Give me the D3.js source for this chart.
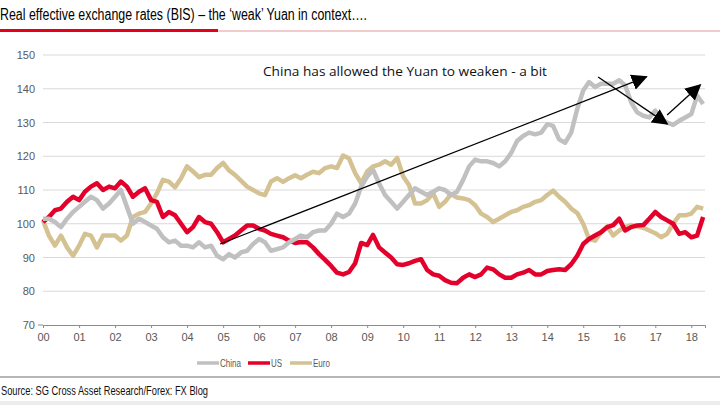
<!DOCTYPE html>
<html><head><meta charset="utf-8">
<script src="https://cdn.jsdelivr.net/npm/d3@7"></script>
<style>
html,body{margin:0;padding:0;background:#fff;}
svg{display:block;}
</style></head>
<body>
<svg id="c" width="720" height="405"></svg>
<script>
// ---- data (bi-monthly observations, Jan 2000 .. May 2018) ----
const seriesNames = ["China", "US", "Euro"];
const tickLabels = ["00","01","02","03","04","05","06","07","08","09","10","11","12","13","14","15","16","17","18"];
const yTicks = [70, 80, 90, 100, 110, 120, 130, 140, 150];

const china = [
 101.5,101.5,100.5,99.0,101.5,103.5, 105,106.5,108,107,104.5,106,
 108,110,105,100,101.5,100.5, 99.5,98.5,96,94.5,95,93.5,
 93.5,93,94.5,93,93.5,90.5, 89.5,91,90,91.5,92,94,
 95.5,94.5,92,92.5,93,94.5, 95.5,96.5,96,97.5,98,98,
 100,103,102,103,106,111, 114,116,112,108.5,106.5,104.5,
 106.5,108.5,110.5,109.5,108.5,109.5, 110.5,110,108.5,109.5,113,117,
 119,118.5,118.5,118,117,118.5, 121,124.5,126,127,126.5,127,
 129.5,129,125,124,127,134, 139.5,142,140.5,141.5,141.5,141.5,
 142.5,141,136,133,132,131.5, 133.5,131,130,129.3,130.5,131.5,
 132.5,138,135.5
];
const us = [
 100.5,102,104,104.5,106.5,108, 107,109.5,111,112,110,111,
 110.5,112.5,111,108,109.5,110.5, 107,106.5,102,103.5,102.5,100,
 97.5,99,102,100.5,100,97.5, 94.5,95.5,96.5,98,99.5,99.5,
 98.5,98,97,96.5,96,95, 94.3,94.6,94.5,93,91,89.3,
 87.5,85.5,85,85.7,88.3,94.3, 93.7,96.7,93,91.5,90,88,
 87.8,88.3,89,89.5,86.3,85, 84.6,83.3,82.5,82.4,84,85,
 84.2,85,87,86.5,85,84, 84,85,85.5,86.3,85,85,
 86,86.3,86.5,86.3,88,90.5, 94,95.5,96.5,97.5,99,99.6,
 101.5,98,99,99.5,99.6,101.5, 103.5,102,101,100,97,97.5,
 96,96.5,102
];
const euro = [
 101,96.5,93.5,96.5,93,90.5, 93.5,97,96.5,93,96.5,96.5,
 96.5,95,96.5,102,103,103.5, 106,109,113,112.5,110.8,113.5,
 117,115.5,113.8,114.5,114.5,116.5, 118,115.8,114.5,112.8,111,110,
 109,108.5,112.5,113.5,112.4,113.5, 114.4,113.5,114.5,115.4,115,116.5,
 117,116.5,120.2,119.3,115,112, 115.5,117,117.5,118.5,117.5,119.5,
 114,111.5,106,106,107,109, 105,106.5,108.8,107.8,107.5,107,
 105.5,103,102,100.5,101.5,102.5, 103.5,104,105,105.5,106.5,107,
 108.5,109.8,108,106.5,104.5,103.2, 100,95.5,95,97.5,99.2,96.5,
 98,99,99.6,99.2,98.8,98, 97.2,96,97,100,102.5,102.5,
 103,105,104.5
];
// annotation arrows in data space: [startYearOffset, startValue, endYearOffset, endValue]
const arrows = [
 [4.89, 94.0, 16.78, 143.5],
 [15.42, 143.5, 17.33, 129.6],
 [17.36, 132.2, 18.25, 141.1]
];
const annotation = "China has allowed the Yuan to weaken - a bit";
const titleText = "Real effective exchange rates (BIS) \u2013 the \u2018weak\u2019 Yuan in context\u2026.";
const sourceText = "Source: SG Cross Asset Research/Forex: FX Blog";

const colors = {China:"#c0c0c0", US:"#e3002b", Euro:"#d4c292"};
const dates = d3.range(china.length).map(i => new Date(2000, i*2, 1));
const data = {China: china, US: us, Euro: euro};

const svg = d3.select("#c");
const x = d3.scaleTime().domain([new Date(2000,0,1), new Date(2018,4,20)]).range([43, 705]);
const y = d3.scaleLinear().domain([70, 150]).range([325, 55]);
const yr = t => new Date(2000 + Math.floor(t), Math.round((t - Math.floor(t))*12), 1);

// title
svg.append("text").attr("x", 0).attr("y", 20).text(titleText)
  .attr("font-family","Liberation Sans, Arial, sans-serif").attr("font-size",16)
  .attr("fill","#000").attr("textLength",367).attr("lengthAdjust","spacingAndGlyphs");
svg.append("line").attr("x1",218).attr("x2",720).attr("y1",31).attr("y2",31)
  .attr("stroke","#e59a9a").attr("stroke-width",1.2);
svg.append("line").attr("x1",0).attr("x2",218).attr("y1",30.5).attr("y2",30.5)
  .attr("stroke","#e3001b").attr("stroke-width",3);

// gridlines
svg.append("g").selectAll("line").data(yTicks.filter(v => v > 70)).join("line")
  .attr("x1",43).attr("x2",705).attr("y1",d=>y(d)).attr("y2",d=>y(d))
  .attr("stroke","#d9d9d9").attr("stroke-width",1);

// y labels
svg.append("g").selectAll("text").data(yTicks).join("text")
  .attr("x",35).attr("y",d=>y(d)+4).attr("text-anchor","end").text(d=>d)
  .attr("font-family","Liberation Sans, Arial, sans-serif").attr("font-size",11).attr("fill","#595959");

// x axis
const tickDates = tickLabels.map((l,i) => new Date(2000+i,0,1));
const xAxis = d3.axisBottom(x).tickValues(tickDates).tickSize(3).tickFormat((d,i)=>tickLabels[i]);
const gx = svg.append("g").attr("transform","translate(0,325)").call(xAxis);
gx.select(".domain").attr("stroke","#8c8c8c");
gx.selectAll(".tick line").attr("stroke","#8c8c8c");
gx.selectAll(".tick text").attr("font-family","Liberation Sans, Arial, sans-serif")
  .attr("font-size",11).attr("fill","#595959").attr("dy","0.9em");
svg.append("line").attr("x1",38).attr("x2",43).attr("y1",325).attr("y2",325).attr("stroke","#8c8c8c");

// lines
const line = d3.line().x((d,i)=>x(dates[i])).y(d=>y(d)).curve(d3.curveLinear);
["Euro","US","China"].forEach(n => {
  svg.append("path").datum(data[n]).attr("d",line).attr("fill","none")
    .attr("stroke",colors[n]).attr("stroke-width",4.5).attr("stroke-linejoin","round");
});

// arrows
const defs = svg.append("defs");
defs.append("marker").attr("id","ah").attr("viewBox","0 0 10 10").attr("refX",9).attr("refY",5)
  .attr("markerWidth",16).attr("markerHeight",16).attr("markerUnits","userSpaceOnUse").attr("orient","auto")
  .append("path").attr("d","M0,0 L10,5 L0,10 z").attr("fill","#000");
svg.append("g").selectAll("line").data(arrows).join("line")
  .attr("x1",d=>x(yr(d[0]))).attr("y1",d=>y(d[1])).attr("x2",d=>x(yr(d[2]))).attr("y2",d=>y(d[3]))
  .attr("stroke","#000").attr("stroke-width",1.3).attr("marker-end","url(#ah)");

// annotation
svg.append("text").attr("x",263).attr("y",76).text(annotation)
  .attr("font-family","Open Sans, sans-serif").attr("font-size",13).attr("fill","#111")
  .attr("textLength",284).attr("lengthAdjust","spacingAndGlyphs");

// legend
const legX = [197, 248, 290];
const legW = [22, 22, 22];
const lg = svg.append("g");
seriesNames.forEach((n,i) => {
  lg.append("line").attr("x1",legX[i]).attr("x2",legX[i]+legW[i]).attr("y1",363).attr("y2",363)
    .attr("stroke",colors[n]).attr("stroke-width",3.5);
  lg.append("text").attr("x",legX[i]+legW[i]+1).attr("y",367).text(n)
    .attr("font-family","Liberation Sans, Arial, sans-serif").attr("font-size",11).attr("fill","#595959")
    .attr("textLength", n==="China"?21:(n==="US"?11:17)).attr("lengthAdjust","spacingAndGlyphs");
});

// source
svg.append("line").attr("x1",0).attr("x2",720).attr("y1",377).attr("y2",377).attr("stroke","#6e6e6e").attr("stroke-width",1.2);
svg.append("text").attr("x",1).attr("y",395).text(sourceText)
  .attr("font-family","Liberation Sans, Arial, sans-serif").attr("font-size",13).attr("fill","#111")
  .attr("textLength",207).attr("lengthAdjust","spacingAndGlyphs");
svg.append("rect").attr("x",0).attr("y",401).attr("width",720).attr("height",4).attr("fill","#ececec");
</script>
</body></html>
